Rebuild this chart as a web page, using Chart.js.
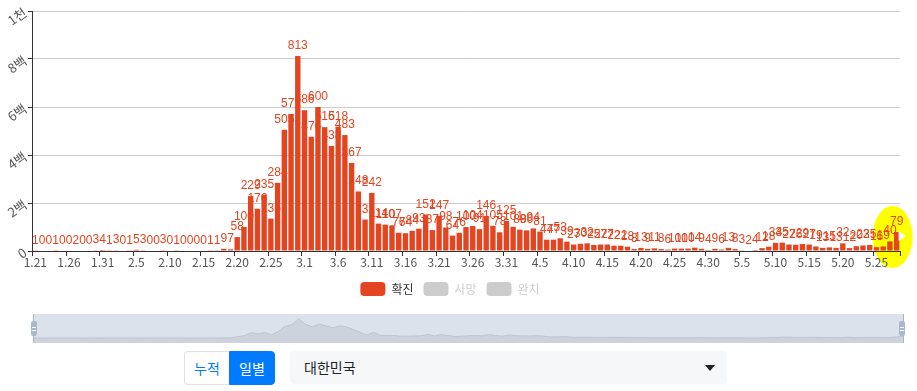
<!DOCTYPE html>
<html lang="ko">
<head>
<meta charset="utf-8">
<script src="https://cdn.jsdelivr.net/npm/chart.js@4.4.1/dist/chart.umd.min.js"></script>
<style>
  body { margin: 0; background: #fff; font-family: "Noto Sans CJK KR", sans-serif; }
  #wrap { position: relative; width: 917px; height: 391px; overflow: hidden; }
  #chart { position: absolute; left: 0; top: 0; }
  #zoom { position: absolute; left: 33px; top: 314px; width: 869px; height: 29px;
          background: rgba(167,183,204,0.4); border-left: 1px solid #aab6c7; border-right: 1px solid #aab6c7; }
  #mini { display: block; }
  .handle { position: absolute; top: 321px; width: 6px; height: 15px; background: #a9b8cc; border-radius: 2px; }
  .handle::before, .handle::after { content: ""; position: absolute; left: 1px; width: 4px; height: 1px; background: #fff; }
  .handle::before { top: 6px; } .handle::after { top: 9px; }
  .btns { position: absolute; left: 184px; top: 351px; height: 34px; display: flex; }
  .btns div { width: 45px; height: 34px; line-height: 33px; text-align: center; font-size: 14px; box-sizing: border-box; }
  .b1 { color: #007bff; background: #fff; border: 1px solid #dee2e6; border-right: none; border-radius: 4px 0 0 4px; }
  .b2 { color: #fff; background: #007bff; border: 1px solid #007bff; border-radius: 0 4px 4px 0; width: 46px !important; }
  .sel { position: absolute; left: 290px; top: 351px; width: 437px; height: 33px; background: #f6f7f9;
         border-radius: 4px; font-size: 14px; line-height: 33px; color: #212529; box-sizing: border-box; padding-left: 14px; }
  .sel::after { content: ""; position: absolute; right: 12px; top: 14px; border-left: 5px solid transparent;
         border-right: 5px solid transparent; border-top: 6px solid #222; }
</style>
</head>
<body>
<div id="wrap">
  <canvas id="chart" width="917" height="306"></canvas>
  <div id="zoom"><canvas id="mini" width="869" height="29"></canvas></div>
  <div class="handle" style="left:31px"></div>
  <div class="handle" style="left:899px"></div>
  <div class="btns"><div class="b1">누적</div><div class="b2">일별</div></div>
  <div class="sel">대한민국</div>
</div>
<script>
// days shown per month: [month, first day, last day]
const monthRanges = [[1, 21, 31], [2, 1, 29], [3, 1, 31], [4, 1, 30], [5, 1, 28]];
const dates = [];
monthRanges.forEach(([m, s, e]) => {
  for (let d = s; d <= e; d++) dates.push(m + "." + d);
});

// 일별 확진
const confirmed = [
  1, 0, 0, 1, 0, 0, 2, 0, 0, 3, 4,
  1, 3, 0, 1, 5, 3, 0, 0, 3, 0, 1, 0, 0, 0, 0, 1, 1, 9, 7,
  58, 100, 229, 176, 235, 135, 284, 505, 571, 813,
  586, 476, 600, 516, 438, 518, 483, 367, 248, 131, 242, 114, 110, 107, 76, 74,
  84, 93, 152, 87, 147, 98, 64, 76, 100, 104, 91, 146, 105, 78, 125,
  101, 89, 86, 94, 81, 47, 47, 53, 39, 27, 30, 32, 25, 27, 27, 22, 22, 18, 8, 13,
  9, 11, 8, 6, 10, 10, 10, 14, 9, 4,
  9, 6, 13, 8, 3, 2, 4, 12, 18, 34, 35, 27, 26, 29, 27, 19, 13, 15, 13, 32,
  12, 20, 23, 25, 16, 19, 40, 79
];
// 사망 / 완치 are switched off in the legend
const deaths = [];
const recovered = [];

const yTickLabels = ["0", "2백", "4백", "6백", "8백", "1천"];
const seriesNames = ["확진", "사망", "완치"];

const RED = "#e4441f";
const OFF = "#cccccc";
const FONT = '"Noto Sans CJK KR", sans-serif';
const NUM_FONT = '"Liberation Sans", "Noto Sans CJK KR", sans-serif';

// yellow marker round the last day
const highlight = {
  id: "highlight",
  beforeDraw(chart) {
    const x = chart.scales.x.getPixelForValue(confirmed.length - 1);
    const y0 = chart.scales.y.getPixelForValue(0);
    const ctx = chart.ctx;
    ctx.save();
    ctx.fillStyle = "#ffff00";
    ctx.beginPath();
    ctx.ellipse(x - 4, y0 - 14, 20, 31, 0, 0, Math.PI * 2);
    ctx.fill();
    ctx.restore();
  },
  afterDatasetsDraw(chart) {
    const x = chart.scales.x.getPixelForValue(confirmed.length - 1);
    const y0 = chart.scales.y.getPixelForValue(0);
    const ctx = chart.ctx;
    ctx.save();
    ctx.fillStyle = "#fff";
    ctx.beginPath();
    ctx.moveTo(x + 2, y0 - 20);
    ctx.lineTo(x + 2, y0 - 10);
    ctx.lineTo(x + 9, y0 - 15);
    ctx.closePath();
    ctx.fill();
    ctx.restore();
  }
};

// value above every bar
const valueLabels = {
  id: "valueLabels",
  afterDatasetsDraw(chart) {
    const meta = chart.getDatasetMeta(0);
    const ctx = chart.ctx;
    ctx.save();
    ctx.font = "12px " + NUM_FONT;
    ctx.fillStyle = RED;
    ctx.textAlign = "center";
    ctx.textBaseline = "alphabetic";
    meta.data.forEach((bar, i) => {
      ctx.fillText(String(confirmed[i]), bar.x, bar.y - 7);
    });
    ctx.restore();
  }
};

// x ticks sit on the band edges, one every 5 days plus the end
const xTicks = {
  id: "xTicks",
  afterDraw(chart) {
    const xs = chart.scales.x;
    const band = xs.getPixelForValue(1) - xs.getPixelForValue(0);
    const ctx = chart.ctx;
    ctx.save();
    ctx.strokeStyle = "#333";
    ctx.lineWidth = 1;
    ctx.beginPath();
    for (let i = 0; i <= dates.length; i++) {
      if (i % 5 !== 0 && i !== dates.length) continue;
      const x = Math.round(xs.getPixelForValue(0) - band / 2 + i * band) + 0.5;
      ctx.moveTo(x, xs.top);
      ctx.lineTo(x, xs.top + 5);
    }
    ctx.stroke();
    ctx.restore();
  }
};

new Chart(document.getElementById("chart"), {
  type: "bar",
  data: {
    labels: dates,
    datasets: [
      { label: seriesNames[0], data: confirmed, backgroundColor: RED, barPercentage: 0.8, categoryPercentage: 1.0 },
      { label: seriesNames[1], data: deaths, backgroundColor: "#333", hidden: true },
      { label: seriesNames[2], data: recovered, backgroundColor: "#6c6", hidden: true }
    ]
  },
  options: {
    responsive: false,
    animation: false,
    layout: { padding: { top: 11, right: 17, left: 0, bottom: 0 } },
    scales: {
      x: {
        grid: { display: true, drawOnChartArea: false, drawTicks: false },
        border: { color: "#333" },
        ticks: {
          autoSkip: false, maxRotation: 0, minRotation: 0, padding: 4,
          color: "#555", font: { size: 12, family: FONT },
          callback: (v, i) => (i % 5 === 0 ? dates[i] : "")
        },
        afterFit: (s) => { s.height = 21; }
      },
      y: {
        min: 0, max: 1000,
        grid: { color: "#cccccc", tickColor: "#333", tickLength: 4 },
        border: { color: "#333" },
        ticks: {
          stepSize: 200, padding: 3, minRotation: 35, maxRotation: 35,
          color: "#555", font: { size: 13, family: FONT },
          callback: (v, i) => yTickLabels[i]
        },
        afterFit: (s) => { s.width = 32; }
      }
    },
    plugins: {
      tooltip: { enabled: false },
      legend: {
        position: "bottom",
        onClick: null,
        labels: {
          boxWidth: 25, boxHeight: 14, padding: 10,
          useBorderRadius: true, borderRadius: 4,
          font: { size: 12, family: FONT },
          generateLabels(chart) {
            return chart.data.datasets.map((ds, i) => {
              const on = chart.isDatasetVisible(i);
              return {
                text: ds.label, datasetIndex: i, hidden: false,
                fillStyle: on ? ds.backgroundColor : OFF,
                strokeStyle: "rgba(0,0,0,0)", lineWidth: 0,
                fontColor: on ? "#333" : OFF, borderRadius: 4
              };
            });
          }
        }
      }
    }
  },
  plugins: [highlight, valueLabels, xTicks]
});

// data zoom slider background
new Chart(document.getElementById("mini"), {
  type: "line",
  data: {
    labels: dates,
    datasets: [{
      data: confirmed, fill: "start", tension: 0,
      borderColor: "#bcc4d0", borderWidth: 1,
      backgroundColor: "rgba(47,69,84,0.09)", pointRadius: 0
    }]
  },
  options: {
    responsive: false,
    animation: false,
    layout: { padding: 0 },
    scales: {
      x: { display: false },
      y: { display: false, min: -214, max: 1027 }
    },
    plugins: { legend: { display: false }, tooltip: { enabled: false } }
  }
});
</script>
</body>
</html>
